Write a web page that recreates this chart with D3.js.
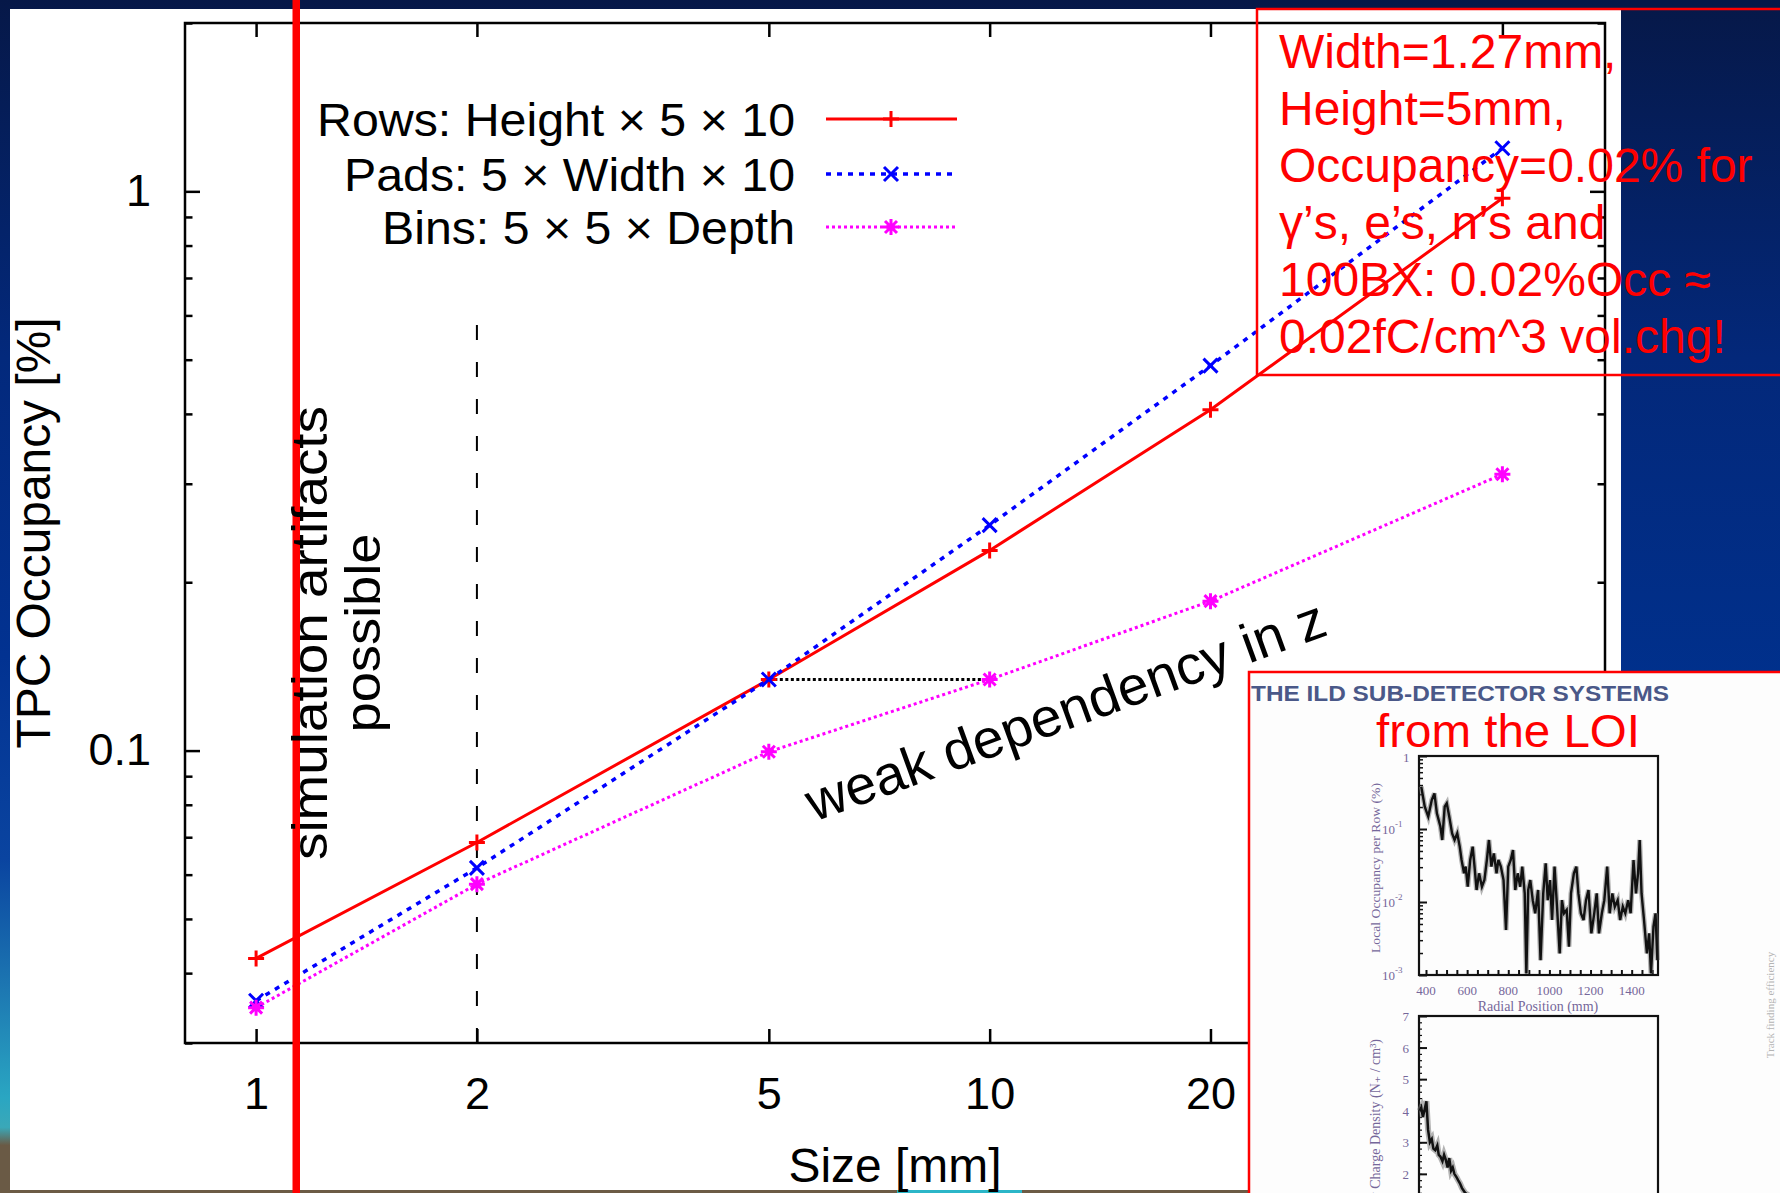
<!DOCTYPE html>
<html><head><meta charset="utf-8">
<script src="https://cdn.jsdelivr.net/npm/d3@7"></script>
<style>html,body{margin:0;padding:0;background:#fff;overflow:hidden}svg{display:block}</style>
</head><body>
<svg id="c" width="1780" height="1193"></svg>
<script>
// ---------------- data ----------------
const sizes = [1, 2, 5, 10, 20, 50];
const xTickLabels = ["1", "2", "5", "10", "20", "50"];
const rowsOcc = [0.0425, 0.0685, 0.134, 0.228, 0.407, 0.972];
const padsOcc = [0.0357, 0.0617, 0.134, 0.253, 0.488, 1.194];
const binsOcc = [0.0347, 0.0577, 0.0995, 0.134, 0.185, 0.312];
const yMajorTicks = [0.1, 1];
const yMajorLabels = ["0.1", "1"];
const yMinorTicks = [0.03, 0.04, 0.05, 0.06, 0.07, 0.08, 0.09, 0.2, 0.3, 0.4, 0.5, 0.6, 0.7, 0.8, 0.9, 2];
const legendLabels = ["Rows: Height \u00d7 5 \u00d7 10", "Pads: 5 \u00d7 Width \u00d7 10", "Bins: 5 \u00d7 5 \u00d7 Depth"];
const annotationLines = ["Width=1.27mm,", "Height=5mm,", "Occupancy=0.02% for",
  "\u03b3\u2019s, e\u2019s, n\u2019s and", "100BX: 0.02%Occ \u2248", "0.02fC/cm^3 vol.chg!"];
const cutSize = 2, cutTop = 0.63;          // dashed line "simulation artifacts"
const zLinkFrom = 5, zLinkTo = 10, zLinkValue = 0.134; // dotted link

// LOI inset: local occupancy per row vs radial position
const loiRadius = [377,394,411,428,441,453,470,479,491,501,513,527,539,552,564,573,585,593,603,615,
  627,636,646,658,672,684,696,706,718,730,743,752,764,777,789,800,812,823,834,846,
  858,868,880,888,897,907,919,931,945,957,970,982,992,1003,1013,1025,1037,1050,1061,1071,
  1084,1095,1105,1119,1131,1141,1153,1166,1178,1190,1204,1218,1230,1241,1255,1267,1281,1293,1306,1318,
  1332,1344,1357,1369,1383,1395,1409,1421,1431,1439,1448,1460,1474,1485,1494,1506,1516,1525];
const loiOccupancy = [0.380,0.202,0.148,0.249,0.308,0.164,0.108,0.0707,0.202,0.225,
  0.148,0.0872,0.0707,0.0872,0.0573,0.0376,0.0247,0.0305,0.0162,0.0376,
  0.0573,0.0305,0.0146,0.0247,0.0162,0.0200,0.0376,0.0707,0.0305,0.0464,
  0.0247,0.0376,0.0305,0.0200,0.00413,0.0305,0.0376,0.0515,0.0146,0.0247,
  0.0162,0.0305,0.0131,0.00105,0.0146,0.0200,0.0106,0.0070,0.0146,0.0016,
  0.0131,0.0339,0.0106,0.0200,0.00567,0.0305,0.00863,0.00198,0.0106,0.0070,
  0.00777,0.00245,0.0131,0.0247,0.0305,0.0131,0.0070,0.00567,0.0106,0.0146,
  0.00372,0.0070,0.0131,0.00372,0.0070,0.0106,0.0305,0.0070,0.0131,0.00863,
  0.0106,0.00567,0.00863,0.0070,0.0106,0.0070,0.0376,0.0131,0.0247,0.0707,
  0.0131,0.00567,0.00198,0.00372,0.00105,0.00459,0.0070,0.0016];
const loiXTicks = [400, 600, 800, 1000, 1200, 1400];
// LOI inset: charge density vs radial position
const chargeRadius = [370,377,385,392,402,410,419,428,436,445,455,462,470,480,488,496,505,513,522,530,538,548,556,565,575,590,610];
const chargeDensity = [4.0,4.1,3.8,4.0,4.3,3.4,3.0,3.1,2.8,2.75,2.9,2.6,2.55,2.4,2.6,2.45,2.2,2.5,2.1,2.2,2.0,1.9,1.8,1.7,1.55,1.4,1.3];
const chargeTicks = [0, 1, 2, 3, 4, 5, 6, 7];

// ---------------- drawing ----------------
const FONT = "'Liberation Sans', Arial, Helvetica, sans-serif";
const SERIF = "'Liberation Serif', 'DejaVu Serif', serif";
const svg = d3.select("#c");
const defs = svg.append("defs");

const bg = defs.append("linearGradient").attr("id", "bgGrad").attr("x1", 0).attr("y1", 0).attr("x2", 0).attr("y2", 1);
[[0, "#061848"], [0.3, "#03287a"], [0.6, "#00318e"], [1, "#00348f"]].forEach(s => bg.append("stop").attr("offset", s[0]).attr("stop-color", s[1]));
const lg = defs.append("linearGradient").attr("id", "leftGrad").attr("x1", 0).attr("y1", 0).attr("x2", 0).attr("y2", 1);
[[0, "#061848"], [0.3, "#03297c"], [0.55, "#023291"], [0.72, "#0a44a0"], [0.83, "#1d78b2"], [0.92, "#2aa6c2"], [0.945, "#3aa8b8"], [0.96, "#6a5a45"], [1, "#6a5a45"]]
  .forEach(s => lg.append("stop").attr("offset", s[0]).attr("stop-color", s[1]));

svg.append("rect").attr("width", 1780).attr("height", 1193).attr("fill", "url(#bgGrad)");
svg.append("rect").attr("x", 0).attr("y", 0).attr("width", 10).attr("height", 1193).attr("fill", "url(#leftGrad)");
svg.append("rect").attr("x", 10).attr("y", 9).attr("width", 1611).attr("height", 1181).attr("fill", "#ffffff");
svg.append("rect").attr("x", 0).attr("y", 1190).attr("width", 1250).attr("height", 3).attr("fill", "#6c5b45");
svg.append("rect").attr("x", 897).attr("y", 1190).attr("width", 125).attr("height", 3).attr("fill", "#2bb6c8");

// scales
const x = d3.scaleLog().domain([0.8, 69]).range([185, 1605]);
const y = d3.scaleLog().domain([0.03, 2]).range([1043, 23]);
const plot = svg.append("g");

function styleAxis(g) {
  g.select(".domain").remove();
  g.selectAll(".tick line").attr("stroke", "#000").attr("stroke-width", 2.5);
  g.selectAll(".tick text").attr("fill", "#000").attr("font-family", FONT).attr("font-size", 45);
}
plot.append("g").attr("transform", "translate(0,1043)")
  .call(d3.axisBottom(x).tickValues(sizes).tickFormat((d, i) => xTickLabels[i]).tickSize(-14).tickSizeOuter(0).tickPadding(34)).call(styleAxis);
plot.append("g").attr("transform", "translate(0,23)")
  .call(d3.axisTop(x).tickValues(sizes).tickFormat("").tickSize(-14).tickSizeOuter(0)).call(styleAxis);
plot.append("g").attr("transform", "translate(185,0)")
  .call(d3.axisLeft(y).tickValues(yMajorTicks).tickFormat((d, i) => yMajorLabels[i]).tickSize(-15).tickSizeOuter(0).tickPadding(34)).call(styleAxis);
plot.append("g").attr("transform", "translate(185,0)")
  .call(d3.axisLeft(y).tickValues(yMinorTicks).tickFormat("").tickSize(-7.5).tickSizeOuter(0)).call(styleAxis);
plot.append("g").attr("transform", "translate(1605,0)")
  .call(d3.axisRight(y).tickValues(yMajorTicks).tickFormat("").tickSize(-15).tickSizeOuter(0)).call(styleAxis);
plot.append("g").attr("transform", "translate(1605,0)")
  .call(d3.axisRight(y).tickValues(yMinorTicks).tickFormat("").tickSize(-7.5).tickSizeOuter(0)).call(styleAxis);
plot.append("rect").attr("x", 185).attr("y", 23).attr("width", 1420).attr("height", 1020)
  .attr("fill", "none").attr("stroke", "#000").attr("stroke-width", 2.5);

// dashed cut line and dotted link
plot.append("line").attr("x1", x(cutSize)).attr("x2", x(cutSize)).attr("y1", y(0.03)).attr("y2", y(cutTop))
  .attr("stroke", "#000").attr("stroke-width", 2).attr("stroke-dasharray", "15,22");
plot.append("line").attr("x1", x(zLinkFrom)).attr("x2", x(zLinkTo)).attr("y1", y(zLinkValue)).attr("y2", y(zLinkValue))
  .attr("stroke", "#000").attr("stroke-width", 3).attr("stroke-dasharray", "3,2.5");

const series = [
  { name: legendLabels[0], vals: rowsOcc, color: "#ff0000", dash: null, width: 3, marker: "M-8,0H8M0,-8V8", len: 478 },
  { name: legendLabels[1], vals: padsOcc, color: "#0000ff", dash: "5,6", width: 3.5, marker: "M-7,-7L7,7M-7,7L7,-7", len: 451 },
  { name: legendLabels[2], vals: binsOcc, color: "#ff00ff", dash: "3,3", width: 3, marker: "M-8,0H8M0,-8V8M-6,-6L6,6M-6,6L6,-6", len: 413 }
];
const line = d3.line().x(d => x(d[0])).y(d => y(d[1]));
series.forEach(s => {
  const pts = sizes.map((sz, i) => [sz, s.vals[i]]);
  plot.append("path").attr("d", line(pts)).attr("fill", "none").attr("stroke", s.color)
    .attr("stroke-width", s.width).attr("stroke-dasharray", s.dash);
  plot.selectAll(null).data(pts).enter().append("path")
    .attr("transform", d => `translate(${x(d[0])},${y(d[1])})`).attr("d", s.marker)
    .attr("stroke", s.color).attr("stroke-width", 3).attr("fill", "none");
});

// legend
const legY = [119, 174, 227];
series.forEach((s, i) => {
  plot.append("text").attr("x", 795).attr("y", legY[i]).attr("dy", "0.36em").attr("text-anchor", "end")
    .attr("font-family", FONT).attr("font-size", 47).attr("fill", "#000")
    .attr("textLength", s.len).attr("lengthAdjust", "spacingAndGlyphs").text(s.name);
  plot.append("line").attr("x1", 826).attr("x2", 957).attr("y1", legY[i]).attr("y2", legY[i])
    .attr("stroke", s.color).attr("stroke-width", s.width).attr("stroke-dasharray", s.dash);
  plot.append("path").attr("transform", `translate(891,${legY[i]})`).attr("d", s.marker)
    .attr("stroke", s.color).attr("stroke-width", 3).attr("fill", "none");
});

// axis titles
plot.append("text").attr("transform", "translate(50,533) rotate(-90)").attr("text-anchor", "middle")
  .attr("font-family", FONT).attr("font-size", 48).attr("textLength", 431).attr("lengthAdjust", "spacingAndGlyphs")
  .text("TPC Occupancy [%]");
plot.append("text").attr("x", 895).attr("y", 1182).attr("text-anchor", "middle")
  .attr("font-family", FONT).attr("font-size", 48).attr("textLength", 213).attr("lengthAdjust", "spacingAndGlyphs")
  .text("Size [mm]");

// red vertical marker line
svg.append("rect").attr("x", 292.5).attr("y", 0).attr("width", 7.5).attr("height", 1193).attr("fill", "#ff0000");

// rotated annotations
svg.append("text").attr("transform", "translate(327,633) rotate(-90)").attr("text-anchor", "middle")
  .attr("font-family", FONT).attr("font-size", 50).attr("textLength", 454).attr("lengthAdjust", "spacingAndGlyphs")
  .text("simulation artifacts");
svg.append("text").attr("transform", "translate(380,633) rotate(-90)").attr("text-anchor", "middle")
  .attr("font-family", FONT).attr("font-size", 50).attr("textLength", 199).attr("lengthAdjust", "spacingAndGlyphs")
  .text("possible");
svg.append("text").attr("transform", "translate(814,822) rotate(-20)")
  .attr("font-family", FONT).attr("font-size", 55).attr("textLength", 549).attr("lengthAdjust", "spacingAndGlyphs")
  .text("weak dependency in z");

// red annotation box
svg.append("rect").attr("x", 1257).attr("y", 9).attr("width", 600).attr("height", 366)
  .attr("fill", "none").attr("stroke", "#ff0000").attr("stroke-width", 2.5);
annotationLines.forEach((t, i) => {
  svg.append("text").attr("x", 1279).attr("y", 68 + i * 57).attr("font-family", FONT).attr("font-size", 48)
    .attr("fill", "#ff0000").text(t);
});

// ---------------- LOI inset ----------------
const inset = svg.append("g");
inset.append("rect").attr("x", 1249).attr("y", 672).attr("width", 600).attr("height", 600)
  .attr("fill", "#fdfdfd").attr("stroke", "#ff0000").attr("stroke-width", 2.5);
inset.append("text").attr("x", 1251).attr("y", 701).attr("font-family", FONT).attr("font-size", 22)
  .attr("font-weight", "bold").attr("fill", "#4a5888").attr("textLength", 418).attr("lengthAdjust", "spacingAndGlyphs")
  .text("THE ILD SUB-DETECTOR SYSTEMS");
inset.append("text").attr("x", 1376).attr("y", 747).attr("font-family", FONT).attr("font-size", 47)
  .attr("fill", "#ff0000").attr("textLength", 264).attr("lengthAdjust", "spacingAndGlyphs").text("from the LOI");

const LBL = "#75679a";
const xm = d3.scaleLinear().domain([366, 1528]).range([1419, 1658]);
const ym = d3.scaleLog().domain([0.001, 1]).range([975, 756]);
const minorLog = [];
[0.001, 0.01, 0.1].forEach(b => { for (let k = 2; k <= 9; k++) minorLog.push(b * k); });
inset.append("g").attr("transform", "translate(1419,0)")
  .call(d3.axisLeft(ym).tickValues([0.001, 0.01, 0.1, 1]).tickFormat("").tickSize(-8).tickSizeOuter(0))
  .call(g => { g.select(".domain").remove(); g.selectAll("line").attr("stroke", "#111").attr("stroke-width", 2); });
inset.append("g").attr("transform", "translate(1419,0)")
  .call(d3.axisLeft(ym).tickValues(minorLog).tickFormat("").tickSize(-4).tickSizeOuter(0))
  .call(g => { g.select(".domain").remove(); g.selectAll("line").attr("stroke", "#111").attr("stroke-width", 1.5); });
inset.append("g").attr("transform", "translate(0,975)")
  .call(d3.axisBottom(xm).tickValues(d3.range(400, 1501, 50)).tickFormat("").tickSize(-5).tickSizeOuter(0))
  .call(g => { g.select(".domain").remove(); g.selectAll("line").attr("stroke", "#111").attr("stroke-width", 2); });
inset.append("rect").attr("x", 1419).attr("y", 756).attr("width", 239).attr("height", 219)
  .attr("fill", "none").attr("stroke", "#111").attr("stroke-width", 2.2);
const mline = d3.line().x(d => xm(d[0])).y(d => ym(d[1]));
const loiPts = loiRadius.map((r, i) => [r, loiOccupancy[i]]);
inset.append("path").attr("d", mline(loiPts)).attr("fill", "none").attr("stroke", "#777").attr("stroke-width", 5).attr("opacity", 0.55);
inset.append("path").attr("d", mline(loiPts)).attr("fill", "none").attr("stroke", "#111").attr("stroke-width", 2.4);
inset.append("text").attr("x", 1403).attr("y", 762).attr("font-family", SERIF).attr("font-size", 13).attr("fill", LBL).text("1");
[[0.1, "-1"], [0.01, "-2"], [0.001, "-3"]].forEach(t => {
  const tx = inset.append("text").attr("x", 1382).attr("y", ym(t[0]) + 5).attr("font-family", SERIF).attr("font-size", 13).attr("fill", LBL);
  tx.append("tspan").text("10");
  tx.append("tspan").attr("dy", -7).attr("font-size", 9).text(t[1]);
});
loiXTicks.forEach(v => {
  inset.append("text").attr("x", xm(v)).attr("y", 995).attr("text-anchor", "middle").attr("font-family", SERIF)
    .attr("font-size", 13).attr("fill", LBL).text(v);
});
inset.append("text").attr("x", 1538).attr("y", 1011).attr("text-anchor", "middle").attr("font-family", SERIF)
  .attr("font-size", 14).attr("fill", LBL).text("Radial Position (mm)");
inset.append("text").attr("transform", "translate(1380,868) rotate(-90)").attr("text-anchor", "middle")
  .attr("font-family", SERIF).attr("font-size", 13).attr("fill", LBL)
  .attr("textLength", 170).attr("lengthAdjust", "spacingAndGlyphs").text("Local Occupancy per Row (%)");

// second mini plot
const yc = d3.scaleLinear().domain([0, 7]).range([1237, 1016]);
inset.append("g").attr("transform", "translate(1419,0)")
  .call(d3.axisLeft(yc).tickValues(chargeTicks).tickFormat("").tickSize(-8).tickSizeOuter(0))
  .call(g => { g.select(".domain").remove(); g.selectAll("line").attr("stroke", "#111").attr("stroke-width", 2); });
inset.append("g").attr("transform", "translate(1419,0)")
  .call(d3.axisLeft(yc).tickValues(d3.range(0, 7, 0.2)).tickFormat("").tickSize(-3).tickSizeOuter(0))
  .call(g => { g.select(".domain").remove(); g.selectAll("line").attr("stroke", "#111").attr("stroke-width", 1.2); });
inset.append("rect").attr("x", 1419).attr("y", 1016).attr("width", 239).attr("height", 221)
  .attr("fill", "none").attr("stroke", "#111").attr("stroke-width", 2.2);
const cline = d3.line().x(d => xm(d[0])).y(d => yc(d[1]));
const chPts = chargeRadius.map((r, i) => [r, chargeDensity[i]]);
inset.append("path").attr("d", cline(chPts)).attr("fill", "none").attr("stroke", "#777").attr("stroke-width", 6).attr("opacity", 0.55);
inset.append("path").attr("d", cline(chPts)).attr("fill", "none").attr("stroke", "#111").attr("stroke-width", 2.5);
chargeTicks.forEach(v => {
  inset.append("text").attr("x", 1409).attr("y", yc(v) + 5).attr("text-anchor", "end").attr("font-family", SERIF)
    .attr("font-size", 13).attr("fill", LBL).text(v);
});
inset.append("text").attr("transform", "translate(1380,1039) rotate(-90)").attr("text-anchor", "end")
  .attr("font-family", SERIF).attr("font-size", 14).attr("fill", LBL).text("Primary Charge Density (N\u208a / cm\u00b3)");
inset.append("text").attr("transform", "translate(1774,1005) rotate(-90)").attr("text-anchor", "middle")
  .attr("font-family", SERIF).attr("font-size", 11).attr("fill", "#b4b4b4").text("Track finding efficiency");
</script>
</body></html>
